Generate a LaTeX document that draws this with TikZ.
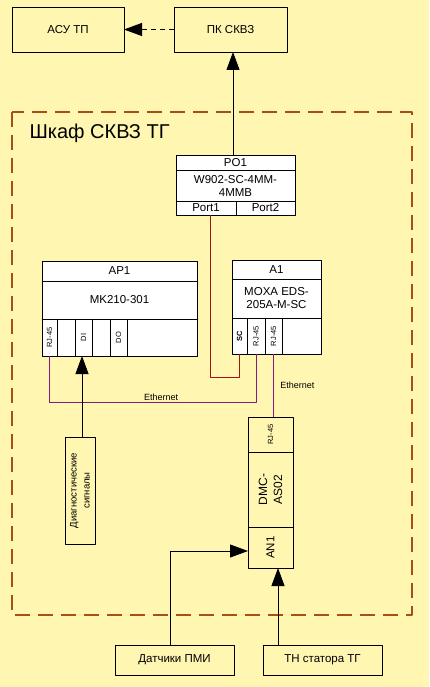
\documentclass[tikz,border=0pt]{standalone}
\usepackage{fontspec}
\setmainfont{Liberation Sans}
\usetikzlibrary{arrows.meta,positioning}
\definecolor{maunen}{RGB}{255,246,178}
\definecolor{maunau}{RGB}{166,80,22}
\definecolor{mautim}{RGB}{135,25,125}
\definecolor{maudo}{RGB}{165,20,20}
\tikzset{
	hop/.style={draw,line width=.9pt,inner sep=0pt,outer sep=0pt,align=center,font=\fontsize{11.5}{13}\selectfont},
	hoptrang/.style={hop,fill=white},
	nho/.style={font=\fontsize{7.5}{8}\selectfont},
	muiten/.style={line width=.9pt,-{Triangle[length=18pt,width=13pt]}},
	day/.style={line width=.9pt}
}
\begin{document}
\begin{tikzpicture}[x=1pt,y=-1pt,line join=round]
		%==Nền và khung tủ
		\fill[maunen] (0,0) rectangle (429,687);
		\draw[maunau,line width=2.6pt,dash pattern=on 15pt off 8pt] (12,112) rectangle (412,615);
		\node[anchor=west,font=\fontsize{20}{24}\selectfont] (tu) at (26,133) {Шкаф СКВЗ ТГ};
		%==Khối trên
		\node[hop,minimum width=112,minimum height=45] (asu) at (68,29.5) {АСУ ТП};
		\node[hop,minimum width=113,minimum height=45] (pk) at (230.5,29.5) {ПК СКВЗ};
		%==PO1
		\node[hoptrang,minimum width=119,minimum height=15] (po1) at (235.5,162.5) {PO1};
		\node[hoptrang,minimum width=119,minimum height=31,below=0pt of po1] (po1m) {W902-SC-4MM-\\4MMB};
		\node[hoptrang,minimum width=60,minimum height=14,below right=0pt of po1m.south west] (port1) {Port1};
		\node[hoptrang,minimum width=59,minimum height=14,right=0pt of port1] (port2) {Port2};
		%==AP1
		\node[hoptrang,minimum width=155,minimum height=20] (ap1) at (119.5,271) {AP1};
		\node[hoptrang,minimum width=155,minimum height=38,below=0pt of ap1] (ap1m) {MK210-301};
		\foreach \ten/\x/\w/\t in {p1/49.5/15/RJ-45,p2/66/18/,p3/83.5/17/DI,p4/101/18/,p5/118.5/17/DO,p6/162/70/}
		\node[hoptrang,nho,rotate=90,minimum width=37,minimum height=\w] (ap1\ten) at (\x,337.5) {\t};
		%==A1
		\node[hoptrang,minimum width=89,minimum height=19] (a1) at (276.5,269.5) {A1};
		\node[hoptrang,minimum width=89,minimum height=39,below=0pt of a1] (a1m) {MOXA EDS-\\205A-M-SC};
		\foreach \ten/\x/\w/\t in {p1/239.5/15/\textbf{SC},p2/256/18/RJ-45,p3/273.5/17/RJ-45,p4/301.5/39/}
		\node[hoptrang,nho,rotate=90,minimum width=36,minimum height=\w] (a1\ten) at (\x,336) {\t};
		%==DMC-AS02
		\node[hop,rotate=90,minimum width=35,minimum height=45,font=\fontsize{7.5}{8}\selectfont] (dmc1) at (270.5,434.5) {RJ-45};
		\node[hop,rotate=90,minimum width=75,minimum height=45,font=\fontsize{12}{15}\selectfont] (dmc2) at (270.5,489.5) {DMC-\\AS02};
		\node[hop,rotate=90,minimum width=41,minimum height=45] (dmc3) at (270.5,547.5) {AN1};
		%==Tín hiệu
		\node[hop,rotate=90,minimum width=107,minimum height=30,font=\fontsize{9.5}{13}\selectfont] (diag) at (80,490.5) {Диагностические\\сигналы};
		\node[hop,minimum width=119,minimum height=30] (dat) at (174.5,660) {Датчики ПМИ};
		\node[hop,minimum width=119,minimum height=30] (tn) at (322.5,660) {ТН статора ТГ};
		%==Đường nối
		\draw[muiten,dash pattern=on 5pt off 4pt] (pk) -- (asu);
		\draw[muiten] ([xshift=-2.5pt]po1.north) -- ([xshift=-2.5pt]po1.north |- pk.south);
		\draw[day,maudo] ([xshift=4pt]port1.south) |- ([yshift=-23pt]a1p1.west) -- (a1p1.west);
		\draw[day,mautim] (ap1p1.west) -- ++(0,46) -| node[pos=.27,above,inner sep=1pt,text=black,font=\fontsize{9}{11}\selectfont] {Ethernet} (a1p2.west);
		\draw[day,mautim] (a1p3.west) -- node[right,xshift=3pt,text=black,font=\fontsize{9}{11}\selectfont] {Ethernet} (a1p3.west |- dmc1.east);
		\draw[muiten] ([xshift=2pt]diag.east) -- ([xshift=2pt]diag.east |- ap1p3.west);
		\draw[muiten] ([xshift=-4.5pt]dat.north) |- ([yshift=-3.5pt]dmc3.north);
		\draw[muiten] ([xshift=-44.5pt]tn.north) -- ([xshift=-44.5pt]tn.north |- dmc3.west);
\end{tikzpicture}
\end{document}
